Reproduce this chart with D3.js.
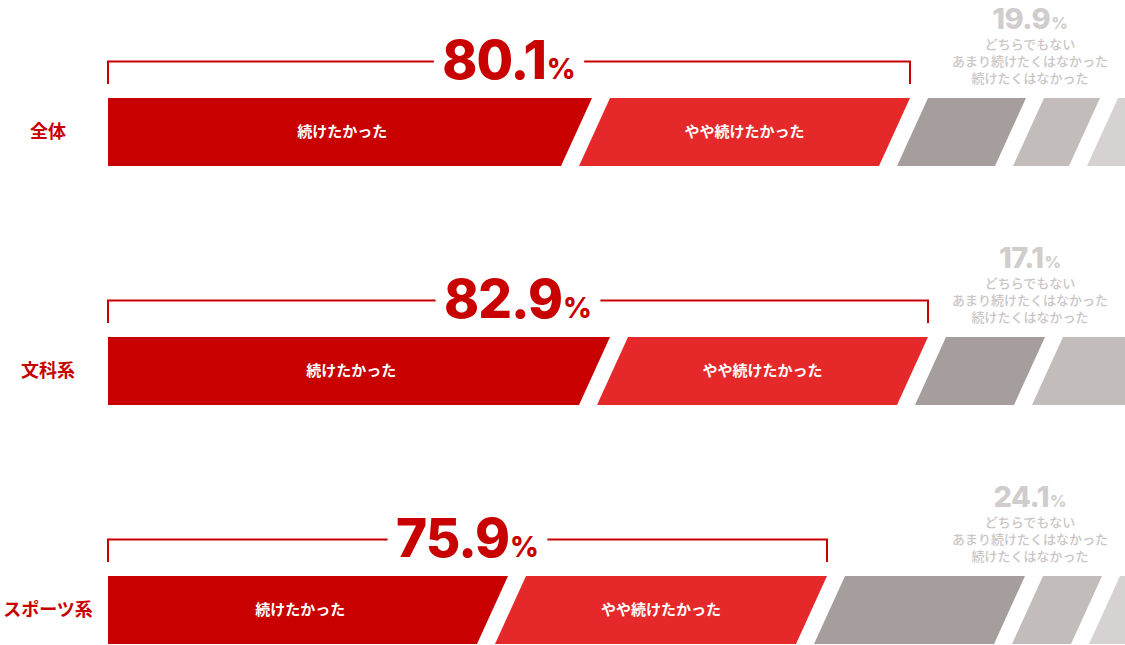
<!DOCTYPE html>
<html>
<head>
<meta charset="utf-8">
<script src="https://cdn.jsdelivr.net/npm/d3@7"></script>
<style>
  body { margin: 0; background: #fff; }
  svg { display: block; }
</style>
</head>
<body>
<div id="chart"></div>
<script>
// rows
const rows = ["全体", "文科系", "スポーツ系"];
const segNames = ["続けたかった", "やや続けたかった", "どちらでもない", "あまり続けたくはなかった", "続けたくはなかった"];
// values per answer (%)
const keepOn = [48.4, 50.2, 40.0];       // 続けたかった
const ratherKeep = [30.0, 30.0, 30.1];   // やや続けたかった
const neither = [9.8, 9.9, 18.0];        // どちらでもない
const ratherNot = [5.6, 9.6, 5.9];       // あまり続けたくはなかった
const notKeep = [4.5, 2.0, 4.5];         // 続けたくはなかった
// printed totals
const posTotals = [80.1, 82.9, 75.9];
const negTotals = [19.9, 17.1, 24.1];

const colors = ["#c80000", "#e5292b", "#a69e9d", "#c2bdbb", "#d6d2d1"];

const width = 1125, height = 645;
const x0 = 108, gap = 18, slant = 31, barH = 68;
const jp = "'Noto Sans CJK JP', 'Noto Sans', sans-serif";
const num = "Inter, 'Open Sans', sans-serif";

const x = d3.scaleLinear().domain([0, 100]).range([0, 1000]);
const y = d3.scalePoint().domain(rows).range([98, 576]);

const svg = d3.select("#chart").append("svg")
    .attr("width", width)
    .attr("height", height);

rows.forEach(function (row, r) {
    const top = y(row);
    const vals = [keepOn[r], ratherKeep[r], neither[r], ratherNot[r], notKeep[r]];
    const g = svg.append("g");

    // segments
    let cum = 0;
    const segs = vals.map(function (v, i) {
        const tl = x0 + x(cum) + i * gap;
        const tr = tl + x(v);
        const bl = i === 0 ? tl : tl - slant;
        const br = tr - slant;
        cum += v;
        return {i: i, v: v, tl: tl, tr: tr, bl: bl, br: br};
    });

    g.selectAll("path.seg")
        .data(segs)
        .join("path")
        .attr("class", "seg")
        .attr("d", d => `M${d.tl},${top}L${d.tr},${top}L${d.br},${top + barH}L${d.bl},${top + barH}Z`)
        .attr("fill", d => colors[d.i]);

    g.selectAll("text.seglab")
        .data(segs.slice(0, 2))
        .join("text")
        .attr("class", "seglab")
        .attr("x", d => (d.tl + d.tr + d.bl + d.br) / 4)
        .attr("y", top + barH / 2 + 5)
        .attr("text-anchor", "middle")
        .attr("font-family", jp)
        .attr("font-weight", 700)
        .attr("font-size", 15)
        .attr("fill", "#fff")
        .text(d => segNames[d.i]);

    // row label
    g.append("text")
        .attr("x", 48)
        .attr("y", top + barH / 2 + 6)
        .attr("text-anchor", "middle")
        .attr("font-family", jp)
        .attr("font-weight", 700)
        .attr("font-size", 18)
        .attr("fill", "#c80000")
        .text(row);

    // bracket over the positive part
    const bx1 = x0, bx2 = segs[1].tr;
    const by = top - 36.5, bEnd = top - 14;
    const cx = (bx1 + bx2) / 2;

    const big = g.append("text")
        .attr("x", cx)
        .attr("y", top - 19)
        .attr("text-anchor", "middle")
        .attr("font-family", num)
        .attr("font-weight", 800)
        .attr("fill", "#c80000");
    big.append("tspan")
        .attr("font-size", 53)
        .attr("letter-spacing", -1)
        .text(posTotals[r].toFixed(1));
    big.append("tspan")
        .attr("font-size", 28)
        .attr("dx", 1)
        .text("%");

    const tw = big.node().getComputedTextLength();
    const pad = 9;
    const bracket = d3.path();
    bracket.moveTo(bx1, bEnd);
    bracket.lineTo(bx1, by);
    bracket.lineTo(cx - tw / 2 - pad, by);
    bracket.moveTo(cx + tw / 2 + pad, by);
    bracket.lineTo(bx2, by);
    bracket.lineTo(bx2, bEnd);
    g.append("path")
        .attr("d", bracket.toString())
        .attr("fill", "none")
        .attr("stroke", "#c80000")
        .attr("stroke-width", 2);

    // negative part label
    const neg = g.append("text")
        .attr("x", 1030)
        .attr("y", top - 69.5)
        .attr("text-anchor", "middle")
        .attr("font-family", num)
        .attr("font-weight", 800)
        .attr("fill", "#d1cdcc");
    neg.append("tspan")
        .attr("font-size", 29)
        .attr("letter-spacing", -0.5)
        .text(negTotals[r].toFixed(1));
    neg.append("tspan")
        .attr("font-size", 16)
        .attr("dx", 1)
        .text("%");

    g.selectAll("text.neglab")
        .data(segNames.slice(2))
        .join("text")
        .attr("class", "neglab")
        .attr("x", 1030)
        .attr("y", (d, i) => top - 49.5 + i * 17)
        .attr("text-anchor", "middle")
        .attr("font-family", jp)
        .attr("font-weight", 500)
        .attr("font-size", 13)
        .attr("fill", "#cbc6c5")
        .text(d => d);
});
</script>
</body>
</html>
